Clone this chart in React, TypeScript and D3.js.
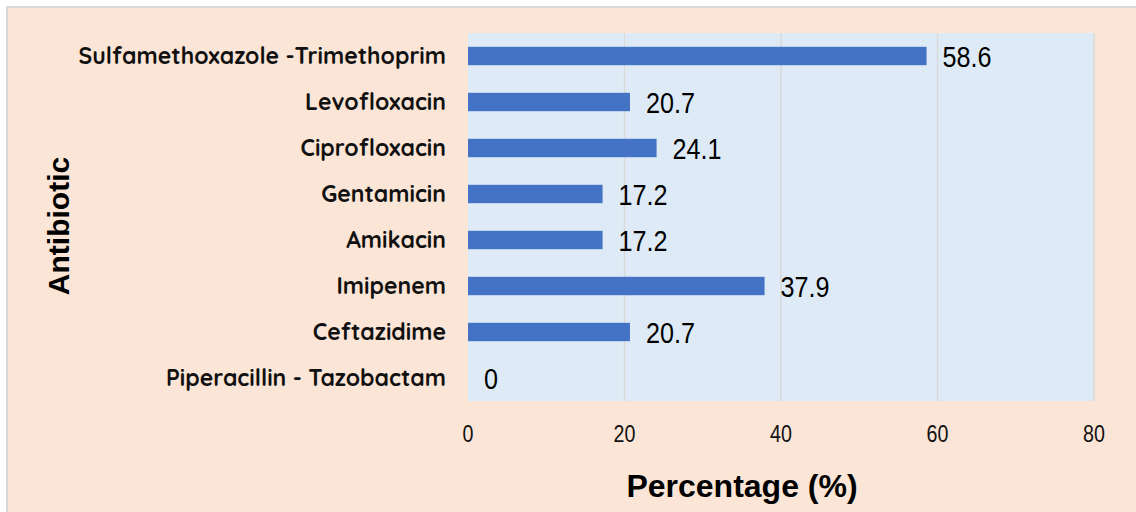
import React, { useRef, useEffect } from "react";
import * as d3 from "d3";

const antibiotics = [
  "Sulfamethoxazole -Trimethoprim",
  "Levofloxacin",
  "Ciprofloxacin",
  "Gentamicin",
  "Amikacin",
  "Imipenem",
  "Ceftazidime",
  "Piperacillin - Tazobactam",
];
const percentages = [58.6, 20.7, 24.1, 17.2, 17.2, 37.9, 20.7, 0];
const xTicks = [0, 20, 40, 60, 80];

const W = 1136;
const H = 512;
const left = 468;
const right = 1094;
const top = 33;
const bottom = 401;

const labelFont = "'Quicksand', 'Century Gothic', 'Lato', 'Noto Sans', sans-serif";
const numFont = "'Liberation Sans', Arial, sans-serif";

export default function App() {
  const gRef = useRef<SVGGElement>(null);

  const x = d3.scaleLinear().domain([0, 80]).range([left, right]);
  const y = d3
    .scaleBand<string>()
    .domain(antibiotics)
    .range([top, bottom])
    .paddingInner(0.6)
    .paddingOuter(0.3);

  useEffect(() => {
    if (!gRef.current) return;
    const g = d3.select(gRef.current);
    g.selectAll("*").remove();

    // gridlines
    g.append("g")
      .selectAll("line")
      .data(xTicks.slice(1))
      .join("line")
      .attr("x1", (d) => x(d))
      .attr("x2", (d) => x(d))
      .attr("y1", top)
      .attr("y2", bottom)
      .attr("stroke", "#D9D9D9")
      .attr("stroke-width", 1.5);

    // bars
    g.append("g")
      .selectAll("rect")
      .data(percentages)
      .join("rect")
      .attr("x", x(0))
      .attr("y", (_, i) => y(antibiotics[i]) as number)
      .attr("width", (d) => x(d) - x(0))
      .attr("height", y.bandwidth())
      .attr("fill", "#4472C4");

    // value labels (condensed look)
    g.append("g")
      .selectAll("text")
      .data(percentages)
      .join("text")
      .attr(
        "transform",
        (d, i) =>
          `translate(${x(d) + 16},${(y(antibiotics[i]) as number) + y.bandwidth() / 2 + 11}) scale(0.84,1)`
      )
      .attr("font-family", numFont)
      .attr("font-size", 30)
      .attr("fill", "#000")
      .text((d) => String(d));

    // category labels
    g.append("g")
      .selectAll("text")
      .data(antibiotics)
      .join("text")
      .attr("x", 446)
      .attr("y", (d) => (y(d) as number) + y.bandwidth() / 2)
      .attr("dy", "0.36em")
      .attr("text-anchor", "end")
      .attr("font-family", labelFont)
      .attr("font-weight", 700)
      .attr("font-size", 23)
      .attr("fill", "#111")
      .text((d) => d);

    // x tick labels
    g.append("g")
      .selectAll("text")
      .data(xTicks)
      .join("text")
      .attr("transform", (d) => `translate(${x(d)},442) scale(0.82,1)`)
      .attr("text-anchor", "middle")
      .attr("font-family", numFont)
      .attr("font-size", 24)
      .attr("fill", "#111")
      .text((d) => String(d));
  }, []);

  return (
    <svg
      width={W}
      height={H}
      style={{ position: "absolute", left: 0, top: 0 }}
    >
      <rect x={0} y={0} width={W} height={H} fill="#ffffff" />
      <rect x={7} y={7} width={W} height={H} fill="#FBE5D6" stroke="#D9D9D9" strokeWidth={2} />
      <rect x={left} y={top} width={right - left} height={bottom - top} fill="#DEEBF7" />
      <g ref={gRef}></g>
      <text
        x={742}
        y={497}
        textAnchor="middle"
        fontFamily={numFont}
        fontWeight={700}
        fontSize={32}
        fill="#000"
      >
        Percentage (%)
      </text>
      <text
        transform={`translate(69, 226) rotate(-90)`}
        textAnchor="middle"
        fontFamily={numFont}
        fontWeight={700}
        fontSize={30}
        fill="#000"
      >
        Antibiotic
      </text>
    </svg>
  );
}
